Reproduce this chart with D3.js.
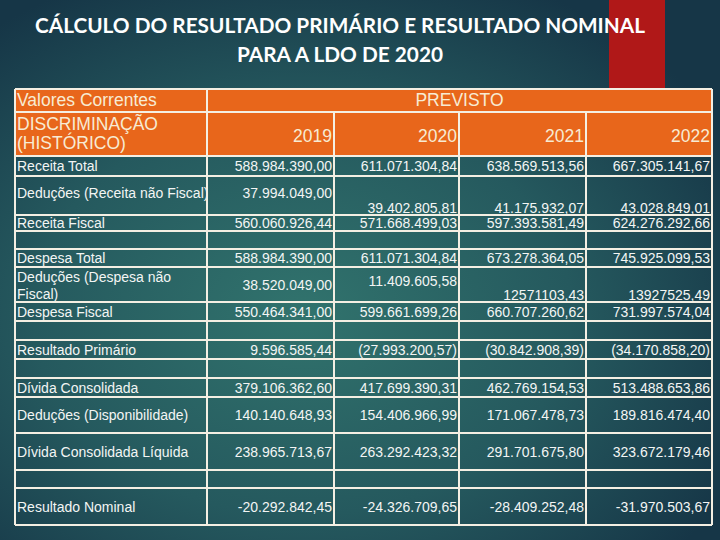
<!DOCTYPE html>
<html>
<head>
<meta charset="utf-8">
<script src="https://cdn.jsdelivr.net/npm/d3@7"></script>
<style>
  html, body { margin: 0; padding: 0; background: #1b3d4b; }
  svg { display: block; }
</style>
</head>
<body>
<svg id="chart" width="720" height="540"></svg>
<script>
// ---------------- data ----------------
const titleLines = ["CÁLCULO DO RESULTADO PRIMÁRIO E RESULTADO NOMINAL", "PARA A LDO DE 2020"];
const headerTop = ["Valores Correntes", "PREVISTO"];
const headerLabel = ["DISCRIMINAÇÃO", "(HISTÓRICO)"];
const years = ["2019", "2020", "2021", "2022"];
const rowLabels = [
  "Receita Total", "Deduções (Receita não Fiscal)", "Receita Fiscal", "",
  "Despesa Total", "Deduções (Despesa não Fiscal)", "Despesa Fiscal", "",
  "Resultado Primário", "",
  "Dívida Consolidada", "Deduções (Disponibilidade)", "Dívida Consolidada Líquida", "",
  "Resultado Nominal"
];
const values2019 = ["588.984.390,00", "37.994.049,00", "560.060.926,44", "", "588.984.390,00", "38.520.049,00", "550.464.341,00", "", "9.596.585,44", "", "379.106.362,60", "140.140.648,93", "238.965.713,67", "", "-20.292.842,45"];
const values2020 = ["611.071.304,84", "39.402.805,81", "571.668.499,03", "", "611.071.304,84", "11.409.605,58", "599.661.699,26", "", "(27.993.200,57)", "", "417.699.390,31", "154.406.966,99", "263.292.423,32", "", "-24.326.709,65"];
const values2021 = ["638.569.513,56", "41.175.932,07", "597.393.581,49", "", "673.278.364,05", "12571103,43", "660.707.260,62", "", "(30.842.908,39)", "", "462.769.154,53", "171.067.478,73", "291.701.675,80", "", "-28.409.252,48"];
const values2022 = ["667.305.141,67", "43.028.849,01", "624.276.292,66", "", "745.925.099,53", "13927525,49", "731.997.574,04", "", "(34.170.858,20)", "", "513.488.653,86", "189.816.474,40", "323.672.179,46", "", "-31.970.503,67"];
const seriesValues = [values2019, values2020, values2021, values2022];

// ---------------- layout ----------------
const colEdges = [15, 207, 334, 459, 586, 712];
const headerEdges = [89, 112, 156];
const rowEdges = [156, 176, 215, 231, 249, 267, 302, 321, 340, 359, 378, 397, 433, 470, 488, 525];
// vertical placement overrides: [row, col] -> "top" | "bottom" | "up"
const valign = { "1,0": "up", "1,1": "up", "1,2": "bottom", "1,3": "bottom", "1,4": "bottom", "5,2": "top", "5,3": "bottom", "5,4": "bottom" };
const labelBreaks = { 5: 3 };

const orange = "#E8661B";
const borderCol = "#F4EFE3";
const headText = "#F7EBD3";
const bodyText = "#F3F5F4";

const svg = d3.select("#chart");
const defs = svg.append("defs");
const grad = defs.append("radialGradient").attr("id", "bg")
  .attr("cx", "42%").attr("cy", "58%").attr("r", "68%");
grad.append("stop").attr("offset", "0%").attr("stop-color", "#31736D");
grad.append("stop").attr("offset", "55%").attr("stop-color", "#25595E");
grad.append("stop").attr("offset", "100%").attr("stop-color", "#163647");

svg.append("rect").attr("width", 720).attr("height", 540).attr("fill", "url(#bg)");
// red accent bar
svg.append("rect").attr("x", 609).attr("y", 0).attr("width", 56).attr("height", 90).attr("fill", "#B01818");

// title
const titleY = d3.scaleOrdinal().domain([0, 1]).range([33, 62]);
const titleW = [610, 206];
svg.selectAll("text.title").data(titleLines).join("text")
  .attr("class", "title")
  .attr("x", 340).attr("y", (d, i) => titleY(i))
  .attr("text-anchor", "middle")
  .attr("font-family", "Lato, 'Open Sans', sans-serif")
  .attr("font-weight", "bold").attr("font-size", 20)
  .attr("fill", "#FFFFFF")
  .attr("textLength", (d, i) => titleW[i]).attr("lengthAdjust", "spacingAndGlyphs")
  .text(d => d);

// scales
const colKeys = ["label", ...years];
const xLeft = d3.scaleOrdinal().domain(colKeys).range(colEdges.slice(0, 5));
const xRight = d3.scaleOrdinal().domain(colKeys).range(colEdges.slice(1, 6));
const rowIdx = d3.range(rowLabels.length);
const yTop = d3.scaleOrdinal().domain(rowIdx).range(rowEdges.slice(0, -1));
const yBot = d3.scaleOrdinal().domain(rowIdx).range(rowEdges.slice(1));

function baseline(r, c) {
  const a = valign[r + "," + c];
  if (a === "bottom") return yBot(r) - 2;
  if (a === "top") return yTop(r) + 19;
  if (a === "up") return (yTop(r) + yBot(r)) / 2 + 2;
  return (yTop(r) + yBot(r)) / 2 + 5;
}

// header fill
svg.append("rect").attr("x", colEdges[0]).attr("y", headerEdges[0])
  .attr("width", colEdges[5] - colEdges[0]).attr("height", headerEdges[2] - headerEdges[0])
  .attr("fill", orange);

const font = "Arial, 'Liberation Sans', sans-serif";
const hSize = 17.5;

// header texts
svg.append("text").attr("x", colEdges[0] + 2).attr("y", 106)
  .attr("font-family", font).attr("font-size", hSize).attr("fill", headText).text(headerTop[0]);
svg.append("text").attr("x", (colEdges[1] + colEdges[5]) / 2).attr("y", 106)
  .attr("text-anchor", "middle")
  .attr("font-family", font).attr("font-size", hSize).attr("fill", headText).text(headerTop[1]);
svg.selectAll("text.hl").data(headerLabel).join("text").attr("class", "hl")
  .attr("x", colEdges[0] + 2).attr("y", (d, i) => 130 + i * 19)
  .attr("font-family", font).attr("font-size", hSize).attr("fill", headText).text(d => d);
svg.selectAll("text.yr").data(years).join("text").attr("class", "yr")
  .attr("x", d => xRight(d) - 2).attr("y", 142)
  .attr("text-anchor", "end")
  .attr("font-family", font).attr("font-size", hSize).attr("fill", headText).text(d => d);

// body labels
const labels = svg.selectAll("text.lab").data(rowLabels.map((d, i) => ({ d, i })).filter(o => o.d !== ""))
  .join("text").attr("class", "lab")
  .attr("font-family", font).attr("font-size", 14).attr("fill", bodyText);
labels.each(function (o) {
  const t = d3.select(this);
  const x = xLeft("label") + 2;
  if (labelBreaks[o.i]) {
    const words = o.d.split(" ");
    const lines = [words.slice(0, labelBreaks[o.i]).join(" "), words.slice(labelBreaks[o.i]).join(" ")];
    lines.forEach((ln, k) => t.append("tspan").attr("x", x).attr("y", yTop(o.i) + 15 + k * 17).text(ln));
  } else {
    t.attr("x", x).attr("y", baseline(o.i, 0)).text(o.d);
  }
});

// body values
const cells = [];
seriesValues.forEach((arr, c) => arr.forEach((v, r) => { if (v !== "") cells.push({ v, r, c, key: years[c] }); }));
svg.selectAll("text.val").data(cells).join("text").attr("class", "val")
  .attr("x", d => xRight(d.key) - 2)
  .attr("y", d => baseline(d.r, d.c + 1))
  .attr("text-anchor", "end")
  .attr("font-family", font).attr("font-size", 14).attr("fill", bodyText)
  .text(d => d.v);

// grid lines
const g = svg.append("g").attr("stroke", borderCol).attr("stroke-width", 2).attr("fill", "none");
const hLines = [headerEdges[0], headerEdges[1], ...rowEdges];
g.selectAll("line.h").data(hLines).join("line").attr("class", "h")
  .attr("x1", colEdges[0]).attr("x2", colEdges[5]).attr("y1", d => d).attr("y2", d => d);
[colEdges[0], colEdges[1], colEdges[5]].forEach(x =>
  g.append("line").attr("x1", x).attr("x2", x).attr("y1", headerEdges[0]).attr("y2", rowEdges[rowEdges.length - 1]));
colEdges.slice(2, 5).forEach(x =>
  g.append("line").attr("x1", x).attr("x2", x).attr("y1", headerEdges[1]).attr("y2", rowEdges[rowEdges.length - 1]));
</script>
</body>
</html>
